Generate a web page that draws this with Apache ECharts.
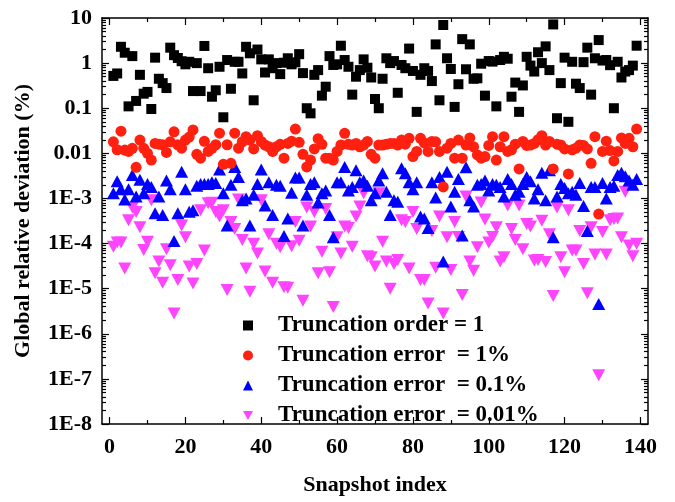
<!DOCTYPE html>
<html>
<head>
<meta charset="utf-8">
<script src="https://cdn.jsdelivr.net/npm/echarts@6/dist/echarts.min.js"></script>
<style>
  html, body { margin: 0; padding: 0; background: #fff; }
  #chart { width: 675px; height: 502px; }
</style>
</head>
<body>
<div id="chart"></div>
<script>
// Global relative deviation (%) per snapshot, snapshots 1..139
const truncOrder1 = [
  0.52, 0.59, 2.3, 1.7, 0.11, 1.43, 0.145, 0.55, 0.21, 0.23,
  0.096, 1.32, 0.45, 0.36, 0.28, 2.2, 1.5, 1.3, 1.1, 0.94,
  1.07, 0.24, 1.0, 0.24, 2.4, 0.77, 0.18, 0.25, 0.83, 0.063,
  1.17, 0.27, 1.07, 1.07, 0.59, 2.3, 1.65, 0.15, 2.0, 1.21,
  0.62, 1.21, 0.77, 1.0, 0.57, 1.02, 1.28, 0.94, 1.04, 1.58,
  0.6, 0.1, 0.077, 0.55, 0.7, 0.19, 0.3, 1.43, 0.91, 0.94,
  2.43, 1.17, 0.83, 0.2, 0.5, 0.7, 1.21, 0.79, 0.48, 0.16,
  0.1, 0.45, 1.28, 1.0, 1.11, 0.22, 0.91, 0.77, 2.1, 0.67,
  0.083, 0.55, 0.77, 0.67, 0.4, 2.6, 0.15, 7.0, 1.28, 0.74,
  0.107, 0.34, 3.4, 0.73, 2.6, 0.45, 0.46, 0.97, 0.19, 1.11,
  1.08, 0.11, 1.17, 1.38, 1.25, 0.18, 0.37, 0.083, 0.32, 1.38,
  0.88, 0.65, 1.74, 1.0, 2.35, 0.7, 7.2, 0.06, 0.36, 1.32,
  0.05, 1.07, 0.35, 0.28, 1.05, 2.2, 0.2, 1.28, 3.24, 1.14,
  1.17, 0.9, 0.1, 1.07, 0.48, 0.65, 0.7, 0.88, 2.43
];
const truncErr1 = [
  0.018, 0.012, 0.031, 0.0118, 0.011, 0.0129, 0.0049, 0.0197, 0.0129, 0.01,
  0.0071, 0.0166, 0.016, 0.0155, 0.0105, 0.018, 0.03, 0.0155, 0.013, 0.0197,
  0.023, 0.033, 0.0095, 0.0078, 0.0185, 0.011, 0.0129, 0.0155, 0.028, 0.0057,
  0.0155, 0.006, 0.028, 0.013, 0.018, 0.0234, 0.0197, 0.0125, 0.0246, 0.0183,
  0.0153, 0.014, 0.011, 0.014, 0.0158, 0.0078, 0.0166, 0.0186, 0.0346, 0.0175,
  0.0095, 0.005, 0.0071, 0.0125, 0.0211, 0.0158, 0.0078, 0.0078, 0.0071, 0.011,
  0.0153, 0.0278, 0.0158, 0.0153, 0.0166, 0.014, 0.0153, 0.0183, 0.0095, 0.0078,
  0.0153, 0.0153, 0.0158, 0.0166, 0.0166, 0.0153, 0.0197, 0.016, 0.0215, 0.0085,
  0.011, 0.0215, 0.017, 0.011, 0.0183, 0.018, 0.011, 0.0018, 0.013, 0.0166,
  0.0078, 0.0197, 0.0078, 0.0153, 0.022, 0.014, 0.0092, 0.0078, 0.0085, 0.015,
  0.0234, 0.0071, 0.014, 0.0234, 0.011, 0.012, 0.016, 0.0045, 0.0183, 0.015,
  0.0153, 0.0166, 0.02, 0.0246, 0.0153, 0.0183, 0.0045, 0.016, 0.0153, 0.0125,
  0.0035, 0.012, 0.013, 0.0153, 0.015, 0.0125, 0.006, 0.0234, 0.00045, 0.011,
  0.0186, 0.0115, 0.0068, 0.011, 0.022, 0.0166, 0.0215, 0.014, 0.0346
];
const truncErr01 = [
  0.0013, 0.0024, 0.0016, 0.00095, 0.0016, 0.0033, 0.0011, 0.0026, 0.0013, 0.0021,
  0.0018, 0.00047, 0.0011, 0.00043, 0.0025, 0.0016, 0.000114, 0.00047, 0.0039, 0.0016,
  0.00051, 0.00055, 0.0019, 0.0021, 0.0021, 0.0021, 0.0023, 0.0022, 0.0044, 0.0013,
  0.00025, 0.002, 0.005, 0.003, 0.00091, 0.001, 0.00025, 0.0012, 0.0021, 0.0044,
  0.0007, 0.0023, 0.00043, 0.002, 0.0019, 0.000147, 0.00036, 0.00134, 0.0029, 0.0029,
  0.00025, 0.0012, 0.0021, 0.0023, 0.00081, 0.0013, 0.0015, 0.00043, 0.000138, 0.0023,
  0.0023, 0.005, 0.0015, 0.0018, 0.0042, 0.0023, 0.0025, 0.0019, 0.00091, 0.0013,
  0.0025, 0.0036, 0.0014, 0.00043, 0.00091, 0.00085, 0.0047, 0.0036, 0.0023, 0.0016,
  0.0023, 0.0004, 0.00036, 0.00022, 0.0023, 0.00105, 0.003, 0.00004, 0.0039, 0.00066,
  0.0014, 0.0027, 0.00015, 0.0049, 0.00091, 0.00066, 0.002, 0.0021, 0.0025, 0.0015,
  0.0021, 0.002, 0.0018, 0.0011, 0.0027, 0.0021, 0.0012, 0.0014, 0.0021, 0.003,
  0.0024, 0.001, 0.0016, 0.0037, 0.00091, 0.0042, 0.000138, 0.0011, 0.0021, 0.0017,
  0.0013, 0.0014, 0.0012, 0.0022, 0.00068, 0.00019, 0.0018, 0.0018, 0.0000046, 0.0022,
  0.001, 0.0018, 0.0019, 0.0033, 0.0037, 0.0031, 0.0025, 0.002, 0.0027
];
const truncErr001 = [
  8.5e-5, 1.05e-4, 1.05e-4, 2.8e-5, 3.3e-4, 6.3e-4, 5e-4, 2.3e-4, 7.2e-5, 1.1e-4,
  9.1e-4, 2.2e-5, 4e-5, 1.35e-5, 7.5e-5, 3.3e-5, 2.8e-6, 1.55e-5, 2.5e-4, 1.38e-4,
  3.1e-5, 1.3e-5, 3.5e-5, 5.5e-4, 7e-5, 7.8e-4, 8e-4, 5e-4, 4e-4, 5.5e-4,
  9.3e-6, 3e-4, 2.1e-4, 9.5e-4, 1.2e-4, 2.8e-5, 8.5e-6, 9.9e-5, 6e-5, 9.1e-4,
  2.4e-5, 1.6e-4, 1.35e-5, 9.9e-5, 8.3e-5, 1.07e-5, 1.05e-5, 8.7e-5, 3e-4, 1.15e-4,
  5.4e-6, 6.3e-4, 2.4e-4, 5e-4, 2.2e-5, 6.6e-5, 5.8e-4, 2.3e-5, 3.9e-6, 1.38e-4,
  6e-5, 2.4e-4, 2.2e-4, 8.5e-5, 4e-4, 6.6e-4, 1.3e-3, 5.2e-5, 5e-5, 3.1e-5,
  1.3e-3, 1.1e-4, 4e-5, 1e-5, 3.5e-5, 4.3e-5, 3.3e-4, 3e-4, 2.8e-5, 5e-4,
  2.1e-4, 1.55e-5, 1.55e-5, 4.7e-6, 1.9e-4, 2.9e-5, 4e-4, 2.8e-6, 1.38e-4, 2.6e-5,
  3e-4, 1.4e-4, 7.2e-6, 1.1e-3, 4e-5, 2.5e-5, 8.3e-5, 8.1e-4, 3.4e-4, 1.05e-4,
  1.4e-4, 2.3e-4, 4e-5, 5e-5, 7e-4, 2.1e-4, 1.2e-4, 7e-4, 7.5e-5, 2.7e-4,
  2.4e-4, 4.2e-5, 4.3e-5, 3.2e-4, 3.9e-5, 1.6e-4, 6.9e-6, 6.3e-4, 5e-5, 2.3e-5,
  5.5e-4, 7e-5, 7e-5, 1.9e-4, 3.5e-5, 7.9e-6, 2.3e-4, 5.7e-5, 1.2e-7, 1.8e-4,
  5.7e-5, 3.3e-4, 3.5e-4, 3.6e-4, 1.38e-4, 1.4e-3, 9e-5, 5.2e-5, 9.9e-5
];

const seriesNames = [
  'Truncation order = 1',
  'Truncation error  = 1%',
  'Truncation error  = 0.1%',
  'Truncation error  = 0.01%'
];

// Axis ticks and labels
const xMajorTicks = [0, 20, 40, 60, 80, 100, 120, 140];
const xMinorTicks = [10, 30, 50, 70, 90, 110, 130];
const yMajorTicks = [1e-8, 1e-7, 1e-6, 1e-5, 1e-4, 1e-3, 0.01, 0.1, 1, 10];
const yTickLabels = ['1E-8', '1E-7', '1E-6', '1E-5', '1E-4', '1E-3', '0.01', '0.1', '1', '10'];

// log-axis minor ticks at 2..9 within each decade
const yMinorTicks = [];
for (let e = -8; e < 1; e++) {
  for (let m = 2; m <= 9; m++) yMinorTicks.push(m * Math.pow(10, e));
}

const FONT = 'Liberation Serif';
const AXIS_COLOR = '#000';

function pairs(values) {
  return values.map((v, i) => [i + 1, v]);
}

function yLabel(v) {
  let best = 0, bestD = Infinity;
  yMajorTicks.forEach((t, i) => {
    const d = Math.abs(Math.log10(v) - Math.log10(t));
    if (d < bestD) { bestD = d; best = i; }
  });
  return yTickLabels[best];
}

function xAxisDef(position, ticks, len, labels, line) {
  return {
    type: 'value', position, min: -2, max: 142,
    axisLine: { show: line, onZero: false, lineStyle: { color: AXIS_COLOR, width: 1.5 } },
    axisTick: { show: true, inside: true, length: len, customValues: ticks,
                lineStyle: { color: AXIS_COLOR, width: 1.2 } },
    axisLabel: labels ? {
      show: true, customValues: xMajorTicks, margin: 12,
      fontFamily: FONT, fontWeight: 'bold', fontSize: 22, color: '#000'
    } : { show: false },
    splitLine: { show: false }
  };
}

function yAxisDef(position, ticks, len, labels, line) {
  return {
    type: 'log', logBase: 10, position, min: 1e-8, max: 10,
    axisLine: { show: line, onZero: false, lineStyle: { color: AXIS_COLOR, width: 1.5 } },
    axisTick: { show: true, inside: true, length: len, customValues: ticks,
                lineStyle: { color: AXIS_COLOR, width: 1.2 } },
    axisLabel: labels ? {
      show: true, customValues: yMajorTicks, margin: 10,
      fontFamily: FONT, fontWeight: 'bold', fontSize: 22, color: '#000',
      formatter: yLabel
    } : { show: false },
    splitLine: { show: false }
  };
}

const xAxes = [
  xAxisDef('bottom', xMajorTicks, 7, true, true),
  xAxisDef('bottom', xMinorTicks, 4, false, false),
  xAxisDef('top', xMajorTicks, 7, false, true),
  xAxisDef('top', xMinorTicks, 4, false, false)
];
Object.assign(xAxes[0], {
  name: 'Snapshot index', nameLocation: 'middle', nameGap: 50,
  nameTextStyle: { fontFamily: FONT, fontWeight: 'bold', fontSize: 22, color: '#000' }
});

const yAxes = [
  yAxisDef('left', yMajorTicks, 7, true, true),
  yAxisDef('left', yMinorTicks, 4, false, false),
  yAxisDef('right', yMajorTicks, 7, false, true),
  yAxisDef('right', yMinorTicks, 4, false, false)
];
Object.assign(yAxes[0], {
  name: 'Global relative deviation (%)', nameLocation: 'middle', nameGap: 68,
  nameTextStyle: { fontFamily: FONT, fontWeight: 'bold', fontSize: 22, color: '#000' }
});

const invTri = 'path://M0,0 L10,0 L5,9 Z';

const option = {
  animation: false,
  backgroundColor: '#fff',
  grid: { left: 102, right: 27, top: 18, bottom: 78, containLabel: false },
  xAxis: xAxes,
  yAxis: yAxes,
  legend: {
    orient: 'vertical', left: 238, top: 309,
    itemWidth: 10, itemHeight: 10, itemGap: 7,
    textStyle: { fontFamily: FONT, fontWeight: 'bold', fontSize: 23, color: '#000', padding: [0, 0, 0, 20] },
    data: [
      { name: seriesNames[0], icon: 'rect' },
      { name: seriesNames[1], icon: 'circle' },
      { name: seriesNames[2], icon: 'triangle' },
      { name: seriesNames[3], icon: invTri }
    ]
  },
  series: [
    { name: seriesNames[0], type: 'scatter', symbol: 'rect', symbolSize: 10,
      itemStyle: { color: '#000', opacity: 1 }, z: 6, data: pairs(truncOrder1) },
    { name: seriesNames[1], type: 'scatter', symbol: 'circle', symbolSize: 11,
      itemStyle: { color: '#ff2010', opacity: 1 }, z: 5, data: pairs(truncErr1) },
    { name: seriesNames[2], type: 'scatter', symbol: 'triangle', symbolSize: [13, 12],
      itemStyle: { color: '#0000ff', opacity: 1 }, z: 4, data: pairs(truncErr01) },
    { name: seriesNames[3], type: 'scatter', symbol: invTri, symbolSize: [13, 12],
      itemStyle: { color: '#ff44ff', opacity: 1 }, z: 3, data: pairs(truncErr001) }
  ]
};

const chart = echarts.init(document.getElementById('chart'), null, { renderer: 'canvas' });
chart.setOption(option);
</script>
</body>
</html>
